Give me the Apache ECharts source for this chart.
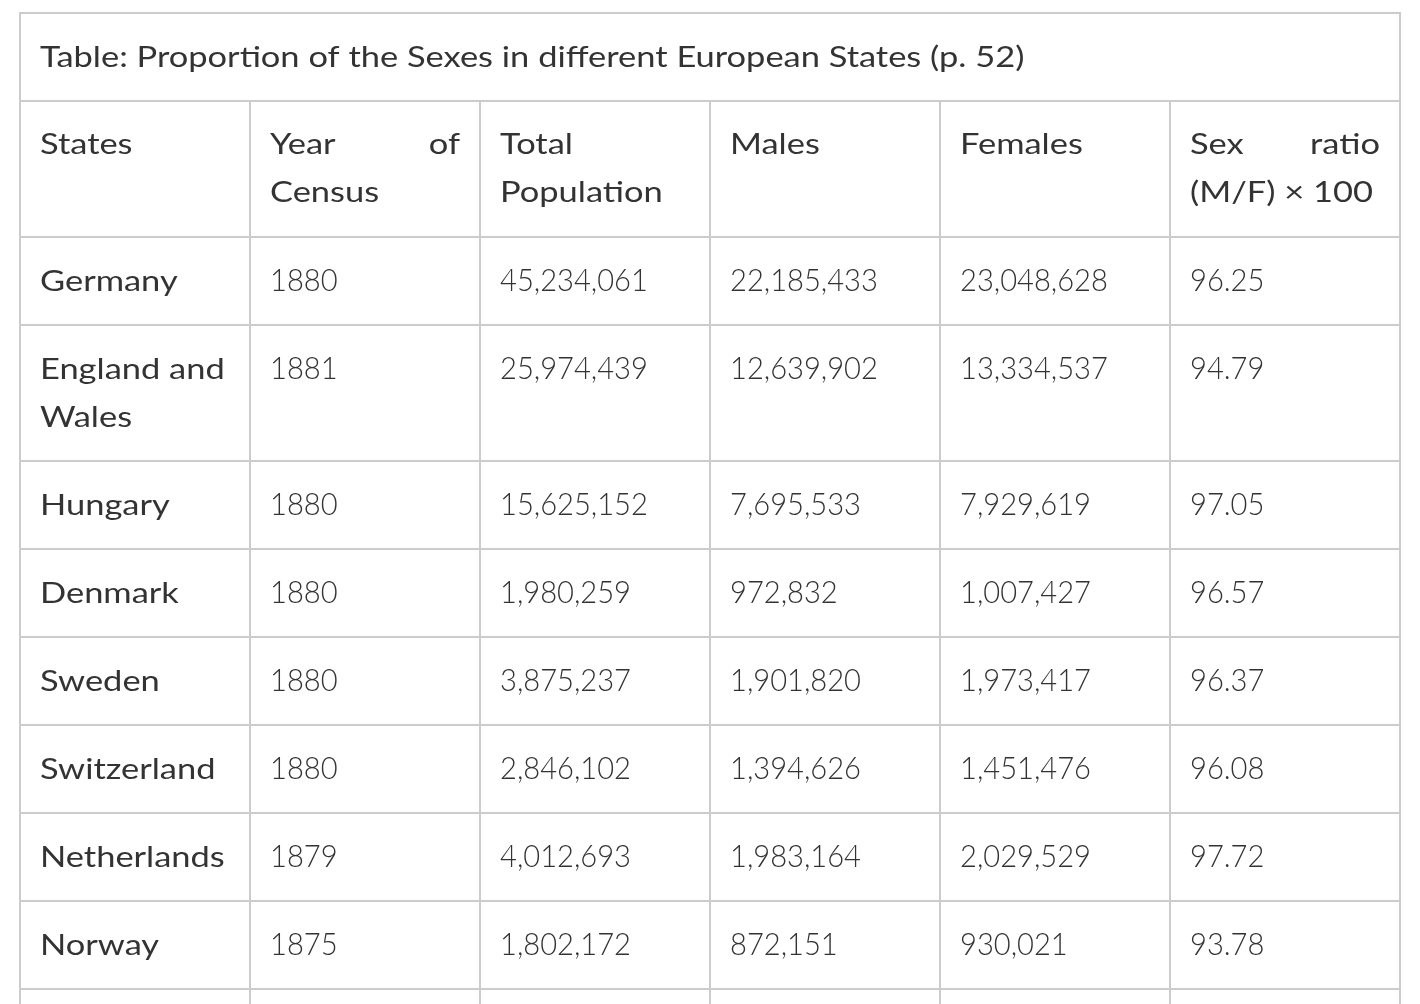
<!DOCTYPE html>
<html>
<head>
<meta charset="utf-8">
<script src="https://cdn.jsdelivr.net/npm/echarts@6/dist/echarts.min.js"></script>
<style>
html,body{margin:0;padding:0;background:#fff}
#main{width:1420px;height:1004px}
</style>
</head>
<body>
<div id="main"></div>
<script>
var title = 'Table: Proportion of the Sexes in different European States (p. 52)';
var headers = ['States', 'Year of\nCensus', 'Total\nPopulation', 'Males', 'Females', 'Sex ratio\n(M/F) × 100'];
var states = ['Germany', 'England and\nWales', 'Hungary', 'Denmark', 'Sweden', 'Switzerland', 'Netherlands', 'Norway', ''];
var years = ['1880', '1881', '1880', '1880', '1880', '1880', '1879', '1875', ''];
var totals = ['45,234,061', '25,974,439', '15,625,152', '1,980,259', '3,875,237', '2,846,102', '4,012,693', '1,802,172', ''];
var males = ['22,185,433', '12,639,902', '7,695,533', '972,832', '1,901,820', '1,394,626', '1,983,164', '872,151', ''];
var females = ['23,048,628', '13,334,537', '7,929,619', '1,007,427', '1,973,417', '1,451,476', '2,029,529', '930,021', ''];
var ratios = ['96.25', '94.79', '97.05', '96.57', '96.37', '96.08', '97.72', '93.78', ''];

var FONT = 'Lato';
var LINE = 48, PAD = 20;

// text styles: letters are stretched to the wide look of the original face
var TXT = { size: 28, weight: 400, scale: 1.23, off: 44.5 };
var HEAD = { size: 28, weight: 400, scale: 1.23, off: 44 };
var NUM = { size: 32, weight: 300, scale: 0.91, off: 43.7 };

// build cells: row 0 title, row 1 header, then body rows
var cells = [];
cells.push({ col: 0, row: 0, span: 6, text: title, st: TXT });
headers.forEach(function (h, i) {
  cells.push({ col: i, row: 1, span: 1, text: h, st: HEAD, justify: true });
});
states.forEach(function (s, r) {
  var vals = [s, years[r], totals[r], males[r], females[r], ratios[r]];
  vals.forEach(function (v, c) {
    cells.push({ col: c, row: r + 2, span: 1, text: v, st: c === 0 ? TXT : NUM });
  });
});

// row heights from line counts
var rowLines = [];
cells.forEach(function (c) {
  var n = c.text.split('\n').length;
  rowLines[c.row] = Math.max(rowLines[c.row] || 1, n);
});
var rowTop = [], acc = 0;
var rowH = rowLines.map(function (n) { return 40 + LINE * n; });
rowH.forEach(function (h, r) {
  rowTop[r] = acc;
  acc += h;
});

var chart = echarts.init(document.getElementById('main'));

function txt(str, x, y, align, st) {
  return {
    type: 'text', z2: 2, x: x, y: y, scaleX: st.scale,
    style: {
      text: str, x: 0, y: 0, align: align, verticalAlign: 'middle',
      fill: '#333', font: st.weight + ' ' + st.size + 'px ' + FONT
    }
  };
}

function renderCell(params, api) {
  var cell = cells[params.dataIndex];
  var x0 = api.coord([api.value(0), 0])[0];
  var x1 = api.coord([api.value(0) + cell.span, 0])[0];
  var y0 = api.coord([0, rowTop[cell.row]])[1];
  var y1 = api.coord([0, rowTop[cell.row] + rowH[cell.row]])[1];
  var children = [{
    type: 'rect',
    shape: { x: x0, y: y0, width: x1 - x0, height: y1 - y0 },
    style: { fill: '#fff', stroke: '#cccccc', lineWidth: 2 },
    z2: 0
  }];
  var lines = cell.text.split('\n');
  lines.forEach(function (ln, k) {
    var ty = y0 + cell.st.off + LINE * k;
    var words = ln.split(' ');
    if (cell.justify && k < lines.length - 1 && words.length > 1) {
      children.push(txt(words[0], x0 + PAD, ty, 'left', cell.st));
      children.push(txt(words[words.length - 1], x1 - PAD, ty, 'right', cell.st));
    } else if (ln) {
      children.push(txt(ln, x0 + PAD, ty, 'left', cell.st));
    }
  });
  return { type: 'group', children: children };
}

chart.setOption({
  animation: false,
  backgroundColor: '#fff',
  grid: { left: 20, right: 20, top: 13, bottom: 0 },
  xAxis: { type: 'value', min: 0, max: 6, show: false },
  yAxis: { type: 'value', min: 0, max: 991, inverse: true, show: false },
  series: [{
    type: 'custom',
    clip: false,
    renderItem: renderCell,
    data: cells.map(function (c) { return [c.col, c.row]; })
  }]
});
</script>
</body>
</html>
